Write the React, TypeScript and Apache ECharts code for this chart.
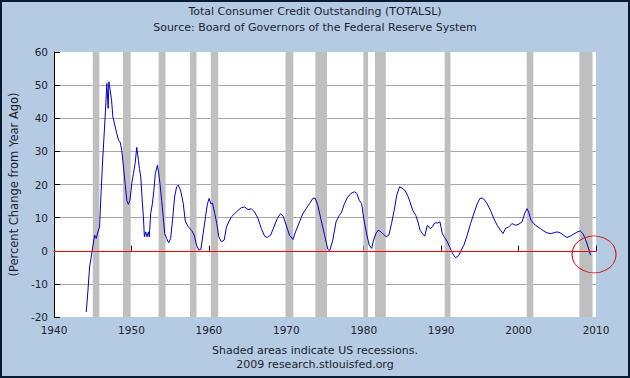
import React, { useEffect, useRef } from "react";
import * as echarts from "echarts";

const years = [
  1944.16, 1944.38, 1944.59, 1944.8, 1945.0, 1945.24, 1945.45, 1945.66, 1945.88,
  1946.05, 1946.3, 1946.6, 1946.82, 1946.99, 1947.08, 1947.25, 1947.43, 1947.6,
  1947.9, 1948.1, 1948.33, 1948.54, 1948.75, 1948.97, 1949.18, 1949.4, 1949.6,
  1949.8, 1950.04, 1950.25, 1950.47, 1950.68, 1950.9, 1951.03, 1951.2, 1951.36,
  1951.54, 1951.67, 1951.84, 1952.0, 1952.19, 1952.3, 1952.48, 1952.7, 1952.9,
  1953.08, 1953.35, 1953.5, 1953.68, 1953.9, 1954.1, 1954.29, 1954.54, 1954.8,
  1955.06, 1955.3, 1955.57, 1955.83, 1956.05, 1956.34, 1956.69, 1956.95, 1957.33,
  1957.76, 1958.1, 1958.4, 1958.7, 1958.96, 1959.26, 1959.56, 1959.82, 1960.03,
  1960.24, 1960.46, 1960.76, 1961.02, 1961.28, 1961.62, 1961.97, 1962.27, 1962.56,
  1962.9, 1963.33, 1963.76, 1964.2, 1964.62, 1965.06, 1965.48, 1965.9, 1966.35,
  1966.77, 1967.2, 1967.54, 1967.97, 1968.4, 1968.83, 1969.25, 1969.6, 1969.99,
  1970.41, 1970.85, 1971.27, 1971.7, 1972.13, 1972.56, 1972.99, 1973.42, 1973.72,
  1974.07, 1974.5, 1974.92, 1975.35, 1975.6, 1976.0, 1976.42, 1976.85, 1977.15,
  1977.5, 1977.93, 1978.35, 1978.78, 1979.12, 1979.42, 1979.73, 1980.07, 1980.41,
  1980.71, 1981.02, 1981.27, 1981.57, 1981.87, 1982.21, 1982.56, 1982.9, 1983.24,
  1983.59, 1983.93, 1984.27, 1984.62, 1985.0, 1985.3, 1985.65, 1985.98, 1986.33,
  1986.72, 1987.01, 1987.27, 1987.58, 1987.88, 1988.22, 1988.56, 1988.87, 1989.16,
  1989.51, 1989.85, 1990.15, 1990.45, 1990.8, 1991.13, 1991.48, 1991.87, 1992.29,
  1992.6, 1992.94, 1993.37, 1993.8, 1994.22, 1994.66, 1995.0, 1995.3, 1995.6,
  1995.94, 1996.37, 1996.8, 1997.23, 1997.66, 1998.0, 1998.3, 1998.73, 1999.16,
  1999.59, 2000.01, 2000.45, 2000.78, 2001.1, 2001.3, 2001.6, 2001.94, 2002.38,
  2002.8, 2003.23, 2003.67, 2004.1, 2004.52, 2004.95, 2005.38, 2005.8, 2006.24,
  2006.67, 2007.1, 2007.53, 2007.95, 2008.3, 2008.6, 2008.9, 2009.3,
];

const values = [
  -18.5, -11.9, -4.9, -1.9, 1.2, 4.7, 3.7, 5.7, 7.2,
  16.2, 28.3, 40.4, 50.5, 43.0, 51.0, 48.5, 45.4, 40.4,
  37.4, 35.4, 33.4, 32.8, 30.3, 25.3, 20.3, 15.2, 14.0,
  15.2, 20.3, 23.3, 26.3, 31.2, 27.3, 24.8, 22.3, 16.2,
  10.2, 4.2, 5.7, 4.2, 5.7, 4.2, 11.2, 14.2, 18.3,
  23.3, 25.8, 23.8, 20.3, 15.2, 10.2, 5.2, 3.7, 2.4,
  3.7, 9.2, 16.2, 19.3, 19.8, 18.3, 14.2, 9.0, 7.2,
  6.2, 4.7, 1.7, 0.2, 0.4, 5.2, 10.2, 14.2, 15.8,
  14.2, 14.4, 11.2, 8.2, 4.2, 2.7, 3.2, 7.2, 8.7,
  10.2, 11.2, 12.2, 13.0, 13.2, 12.4, 12.7, 11.7, 9.7,
  6.7, 4.4, 4.0, 4.7, 7.2, 9.7, 11.2, 10.4, 7.7,
  4.7, 3.4, 6.2, 8.7, 11.2, 12.7, 14.2, 15.8, 15.9,
  13.7, 9.2, 5.0, 0.5, 0.0, 3.2, 8.7, 10.7, 11.7,
  14.2, 16.2, 17.3, 17.8, 17.3, 15.2, 14.2, 8.7, 4.7,
  1.7, 0.7, 3.2, 5.2, 6.2, 5.7, 5.0, 4.2, 4.7,
  8.2, 12.2, 16.8, 19.3, 18.8, 18.3, 16.8, 14.7, 12.2,
  10.7, 8.7, 6.2, 5.2, 4.4, 7.7, 6.7, 7.2, 8.4,
  8.4, 8.7, 5.2, 4.0, 2.7, 1.0, -0.9, -2.1, -1.4,
  0.2, 1.7, 4.7, 8.2, 11.2, 14.2, 15.8, 15.9, 15.4,
  14.2, 12.2, 9.7, 7.7, 6.2, 5.2, 6.7, 7.2, 8.2,
  7.7, 8.0, 8.7, 11.2, 12.7, 11.7, 9.2, 8.2, 7.4,
  6.7, 6.0, 5.4, 5.2, 5.4, 5.7, 5.4, 4.7, 4.0,
  4.4, 5.0, 5.6, 6.0, 5.2, 3.7, 1.7, -1.35,
];

const recessionStarts = [1945.0, 1948.9, 1953.5, 1957.55, 1960.25, 1969.9, 1973.75, 1979.95, 1981.45, 1990.45, 2001.05, 2007.85];
const recessionEnds = [1945.85, 1949.9, 1954.4, 1958.4, 1961.2, 1970.9, 1975.25, 1980.55, 1982.85, 1991.2, 2001.9, 2009.55];

const highlightPoint = [2009.75, -1.1];

const titleLines = ["Total Consumer Credit Outstanding (TOTALSL)", "Source: Board of Governors of the Federal Reserve System"];
const footerLines = ["Shaded areas indicate US recessions.", "2009 research.stlouisfed.org"];
const yAxisName = "(Percent Change from Year Ago)";

const FONT = "DejaVu Sans";
const TEXT = "#1e1e2e";

export default function App() {
  const ref = useRef<HTMLDivElement>(null);
  useEffect(() => {
    if (!ref.current) return;
    const chart = echarts.init(ref.current, undefined, { renderer: "svg" });
    const lineData = years.map((y, i) => [y, values[i]]);
    const areas = recessionStarts.map((s, i) => [{ xAxis: s }, { xAxis: recessionEnds[i] }]);
    chart.setOption({
      animation: false,
      backgroundColor: "#b4cbe3",
      textStyle: { fontFamily: FONT },
      title: [
        {
          text: titleLines.join("\n"),
          left: "center",
          top: 3,
          padding: 0,
          textStyle: { fontFamily: FONT, fontSize: 11, fontWeight: "normal", color: TEXT, lineHeight: 16 },
        },
        {
          text: footerLines.join("\n"),
          left: "center",
          top: 344,
          padding: 0,
          textStyle: { fontFamily: FONT, fontSize: 11, fontWeight: "normal", color: TEXT, lineHeight: 13.5 },
        },
      ],
      graphic: [
        {
          type: "rect",
          shape: { x: 1, y: 1, width: 628, height: 376 },
          style: { fill: "none", stroke: "#0b1a33", lineWidth: 2 },
          silent: true,
        },
      ],
      grid: {
        left: 52,
        right: 34,
        top: 52,
        bottom: 61,
        show: true,
        backgroundColor: "#ffffff",
        borderWidth: 0,
      },
      xAxis: {
        type: "value",
        min: 1940,
        max: 2010,
        interval: 10,
        axisLine: { show: true, lineStyle: { color: "#000", width: 1 } },
        axisTick: { show: true, inside: true, length: 5, lineStyle: { color: "#000" } },
        axisLabel: { color: TEXT, fontSize: 10.5, fontFamily: FONT, margin: 7, formatter: (v: number) => String(v) },
        splitLine: { show: false },
      },
      yAxis: {
        type: "value",
        min: -20,
        max: 60,
        interval: 10,
        name: yAxisName,
        nameLocation: "middle",
        nameGap: 32,
        nameTextStyle: { color: TEXT, fontSize: 11.5, fontFamily: FONT },
        axisLine: { show: true, lineStyle: { color: "#000", width: 1 } },
        axisTick: { show: true, inside: true, length: 6, lineStyle: { color: "#000" } },
        axisLabel: { color: TEXT, fontSize: 10.5, fontFamily: FONT, margin: 6 },
        splitLine: { show: true, showMaxLine: false, showMinLine: false, lineStyle: { color: "#a8a8a8", width: 1 } },
      },
      series: [
        {
          type: "line",
          data: lineData,
          showSymbol: false,
          symbol: "none",
          lineStyle: { color: "#0000c8", width: 1 },
          z: 3,
          markArea: {
            silent: true,
            itemStyle: { color: "#bfbfbf" },
            data: areas,
          },
          markLine: {
            silent: true,
            symbol: "none",
            label: { show: false },
            lineStyle: { color: "#ff0000", width: 1, type: "solid" },
            data: [{ yAxis: 0 }],
          },
          markPoint: {
            silent: true,
            symbol: "circle",
            symbolSize: [44, 37],
            label: { show: false },
            itemStyle: { color: "rgba(0,0,0,0)", borderColor: "#e01010", borderWidth: 1 },
            data: [{ coord: highlightPoint }],
          },
        },
      ],
    });
    return () => chart.dispose();
  }, []);
  return <div ref={ref} style={{ position: "absolute", left: 0, top: 0, width: 630, height: 378 }} />;
}
